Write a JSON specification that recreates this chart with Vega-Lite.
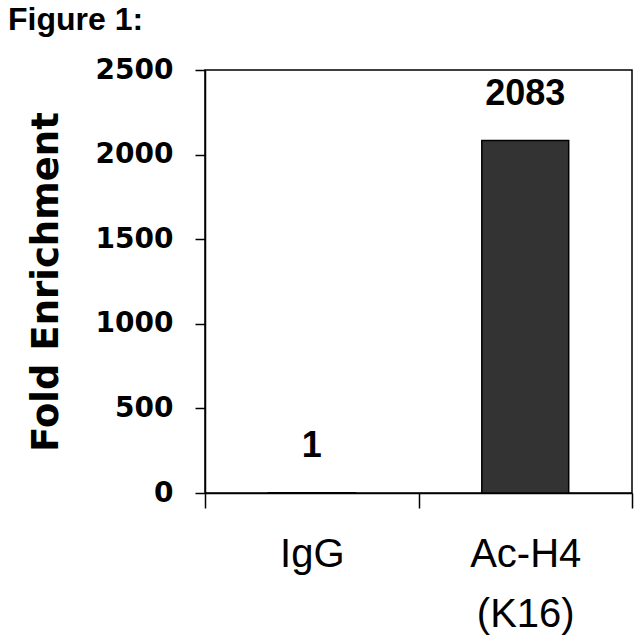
{
  "$schema": "https://vega.github.io/schema/vega-lite/v6.json",
  "autosize": "none",
  "padding": {"left": 205, "top": 70, "right": 8, "bottom": 147},
  "width": 427,
  "height": 423,
  "background": "white",
  "config": {
    "font": "Liberation Sans",
    "view": {"stroke": "black", "strokeWidth": 1.5},
    "axis": {
      "domainColor": "black",
      "domainWidth": 1.5,
      "tickColor": "black",
      "tickWidth": 1.5,
      "labelColor": "black",
      "titleColor": "black",
      "grid": false
    }
  },
  "title": {
    "text": "Figure 1:",
    "anchor": "start",
    "frame": "group",
    "fontSize": 32,
    "fontWeight": "bold",
    "color": "black",
    "dx": -197,
    "offset": 19
  },
  "data": {
    "values": [
      {"target": "IgG", "fold": 1},
      {"target": "Ac-H4 (K16)", "fold": 2083}
    ]
  },
  "encoding": {
    "x": {
      "field": "target",
      "type": "nominal",
      "sort": null,
      "scale": {"paddingInner": 0, "paddingOuter": 0},
      "axis": {
        "title": null,
        "labelAngle": 0,
        "labelFontSize": 40,
        "labelPadding": 26,
        "labelLineHeight": 60,
        "labelExpr": "split(datum.label, ' ')",
        "tickBand": "extent",
        "tickSize": 15
      }
    },
    "y": {
      "field": "fold",
      "type": "quantitative",
      "scale": {"domain": [0, 2500], "nice": false},
      "axis": {
        "title": "Fold Enrichment",
        "titleFont": "DejaVu Sans",
        "titleFontSize": 37,
        "titleFontWeight": "bold",
        "titlePadding": 30,
        "values": [0, 500, 1000, 1500, 2000, 2500],
        "format": "d",
        "labelFont": "DejaVu Sans",
        "labelFontSize": 28,
        "labelFontWeight": "bold",
        "labelPadding": 22,
        "tickSize": 10
      }
    }
  },
  "layer": [
    {
      "mark": {"type": "bar", "color": "#333333", "stroke": "black", "strokeWidth": 1.5, "width": {"band": 0.407}}
    },
    {
      "mark": {"type": "text", "fontSize": 36, "fontWeight": "bold", "baseline": "middle", "dy": -47, "color": "black"},
      "encoding": {"text": {"field": "fold", "type": "quantitative"}}
    }
  ]
}
